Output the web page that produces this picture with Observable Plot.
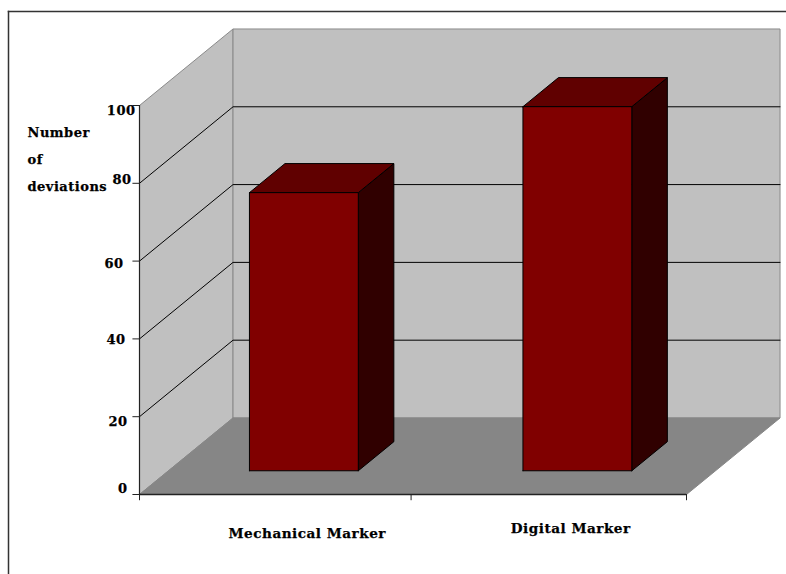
<!DOCTYPE html>
<html>
<head>
<meta charset="utf-8">
<script src="https://cdn.jsdelivr.net/npm/d3@7"></script>
<script src="https://cdn.jsdelivr.net/npm/@observablehq/plot@0.6"></script>
<style>
  html, body { margin: 0; background: #fff; }
  svg { display: block; }
</style>
</head>
<body>
<div id="chart"></div>
<script>
// Number of deviations per marker type
const categories = ["Mechanical Marker", "Digital Marker"];
const deviations = [71.5, 93.6];
const tickValues = [0, 20, 40, 60, 80, 100];
const gridValues = [20, 40, 60, 80];
const categoryTicks = [0, 0.993, 2];

// Oblique projection: a unit of depth moves a point right and up in data units
const depthX = 0.342;
const depthY = 19.67;
const project = (u, v, d) => ({x: u + d * depthX, y: v + d * depthY});

const barWidth = 0.398;
const barCentre = 0.495;
const barDepth = [0.31, 0.69];

const font = "'DejaVu Serif', serif";
const colors = {
  wall: "#c0c0c0", wallEdge: "#8a8a8a", floor: "#868686",
  front: "#800000", top: "#600000", side: "#300000",
  ink: "#000", frame: "#333"
};

const face = (corners, fill, stroke) =>
  Plot.line([...corners, corners[0]].map(c => project(...c)), {
    x: "x", y: "y", fill, stroke, strokeWidth: 1, strokeLinejoin: "miter"
  });

// Box faces for one bar, from its category slot and value
const barFaces = (value, i) => {
  const u0 = i + barCentre - barWidth / 2, u1 = i + barCentre + barWidth / 2;
  const [d0, d1] = barDepth;
  return [
    face([[u1, 0, d0], [u1, 0, d1], [u1, value, d1], [u1, value, d0]], colors.side, colors.ink),
    face([[u0, value, d0], [u1, value, d0], [u1, value, d1], [u0, value, d1]], colors.top, colors.ink),
    face([[u0, 0, d0], [u1, 0, d0], [u1, value, d0], [u0, value, d0]], colors.front, colors.ink)
  ];
};

// Hand-placed nudges for the value labels, in pixels
const valueLabelNudge = {0: [-12, -6], 20: [-12, 5], 40: [-14, 1], 60: [-16, 3], 80: [-8, -3], 100: [-4, 5]};
const categoryLabelNudge = [[31, 39], [21, 34]];

// Bold slab lettering: a hairline stroke thickens the glyphs
const labelStyle = {
  fontFamily: font, fontWeight: "bold", fontSize: 13, fill: "#000", stroke: "#000", strokeWidth: 0.25
};

const chart = Plot.plot({
  width: 786,
  height: 574,
  marginLeft: 8,
  marginTop: 11,
  marginRight: 0,
  marginBottom: 0,
  style: {letterSpacing: "0.5px"},
  x: {axis: null, type: "linear", domain: [0, 2], range: [139, 686]},
  y: {axis: null, type: "linear", domain: [0, 100], range: [494, 105]},
  marks: [
    // Chart border, drawn on the top and left only
    Plot.frame({anchor: "top", stroke: colors.frame, strokeWidth: 1.5}),
    Plot.frame({anchor: "left", stroke: colors.frame, strokeWidth: 1.5}),

    // Walls and floor of the box
    face([[0, 0, 0], [0, 100, 0], [0, 100, 1], [0, 0, 1]], colors.wall, colors.wallEdge),
    face([[0, 0, 1], [2, 0, 1], [2, 100, 1], [0, 100, 1]], colors.wall, colors.wallEdge),
    face([[0, 0, 0], [2, 0, 0], [2, 0, 1], [0, 0, 1]], colors.floor, colors.floor),

    // Gridlines run across the left wall and along the back wall
    ...gridValues.map(v =>
      Plot.line([[0, v, 0], [0, v, 1], [2, v, 1]].map(c => project(...c)), {
        x: "x", y: "y", stroke: colors.ink, strokeWidth: 1
      })
    ),

    ...deviations.flatMap(barFaces),

    // Value axis
    Plot.ruleX([0], {y1: 0, y2: 100, stroke: "#222", strokeWidth: 1.2}),
    Plot.ruleY(tickValues, {x1: -0.024, x2: 0, stroke: "#222", strokeWidth: 1}),

    // Category axis
    Plot.ruleY([0], {x1: 0, x2: 2, stroke: "#222", strokeWidth: 1.4}),
    Plot.ruleX(categoryTicks, {y1: -1.6, y2: 0, stroke: "#222", strokeWidth: 1}),

    // Value labels
    ...tickValues.map(v =>
      Plot.text([v], {
        ...labelStyle, x: 0, y: d => d, text: d => String(d), textAnchor: "end",
        dx: valueLabelNudge[v][0], dy: valueLabelNudge[v][1]
      })
    ),

    // Category labels
    ...categories.map((name, i) =>
      Plot.text([name], {
        ...labelStyle, fontSize: 13.6, x: i + 0.5, y: 0, text: d => d,
        dx: categoryLabelNudge[i][0], dy: categoryLabelNudge[i][1]
      })
    ),

    // Value axis title
    Plot.text(["Number\nof\ndeviations"], {
      ...labelStyle, frameAnchor: "top-left", textAnchor: "start", lineAnchor: "top",
      lineHeight: 2.1, dx: 19, dy: 106, text: d => d
    })
  ]
});

document.getElementById("chart").append(chart);
</script>
</body>
</html>
